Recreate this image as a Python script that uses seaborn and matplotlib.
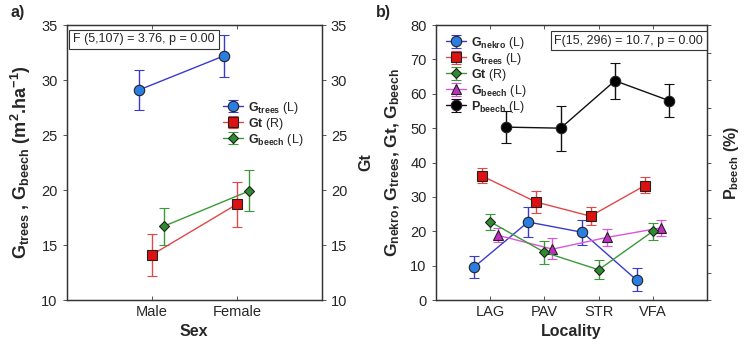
import numpy as np
import pandas as pd
import seaborn as sns
import matplotlib
matplotlib.use("Agg")
import matplotlib.pyplot as plt

# ---- panel a data (Sex) ----
sex = ["Male", "Female"]
a_trees = [29.1, 32.2]
a_trees_lo = [27.3, 30.3]
a_trees_hi = [30.9, 34.1]
a_gt = [14.1, 18.7]
a_gt_lo = [12.2, 16.6]
a_gt_hi = [16.0, 20.7]
a_beech = [16.7, 19.9]
a_beech_lo = [15.0, 18.1]
a_beech_hi = [18.4, 21.8]

# ---- panel b data (Locality) ----
loc = ["LAG", "PAV", "STR", "VFA"]
b_nekro = [9.5, 22.7, 19.7, 5.8]
b_nekro_lo = [6.3, 18.2, 16.1, 2.5]
b_nekro_hi = [12.7, 27.2, 23.3, 9.2]
b_trees = [36.1, 28.5, 24.4, 33.3]
b_trees_lo = [33.9, 25.3, 21.9, 31.0]
b_trees_hi = [38.4, 31.8, 27.0, 35.8]
b_gt = [22.8, 13.9, 8.8, 20.0]
b_gt_lo = [20.4, 10.5, 6.2, 17.5]
b_gt_hi = [25.1, 17.2, 11.5, 22.4]
b_beech = [18.8, 14.8, 18.2, 21.0]
b_beech_lo = [16.9, 11.9, 15.8, 18.7]
b_beech_hi = [21.0, 17.9, 20.7, 23.3]
b_pbeech = [50.3, 50.0, 63.8, 58.0]
b_pbeech_lo = [45.7, 43.5, 58.6, 53.2]
b_pbeech_hi = [55.0, 56.4, 68.9, 62.9]

sns.set_theme(style="ticks")
plt.rcParams["font.family"] = ["Liberation Sans", "DejaVu Sans"]
plt.rcParams["mathtext.fontset"] = "custom"
plt.rcParams["mathtext.rm"] = "Liberation Sans"
plt.rcParams["mathtext.bf"] = "Liberation Sans:bold"
plt.rcParams["mathtext.it"] = "Liberation Sans:italic"

BLUE = ("#3a3acc", "#2a7de1")
RED = ("#e04848", "#dd1111")
GREEN = ("#3a9a3a", "#2e8b2e")
MAG = ("#dd55dd", "#c030c0")
BLACK = ("#111111", "#000000")


def series(ax, cats, vals, lo, hi, off, col, marker, ms, label):
    df = pd.DataFrame({"cat": cats, "v": vals, "lo": lo, "hi": hi})
    x = np.arange(len(df)) + off
    err = [df.v - df.lo, df.hi - df.v]
    return ax.errorbar(x, df.v, yerr=err, color=col[0], lw=1, capsize=3.5,
                       capthick=1, elinewidth=1, marker=marker, ms=ms,
                       mfc=col[1], mec="#222222", mew=0.8, label=label)


fig = plt.figure(figsize=(7.5, 3.58), dpi=100)

# ================= panel a =================
ax = fig.add_axes([0.089, 0.162, 0.340, 0.768])
axr = ax.twinx()
h1 = series(ax, sex, a_trees, a_trees_lo, a_trees_hi, -0.15, BLUE, "o", 7.5,
            r"$\mathbf{G_{trees}}$ (L)")
h2 = series(axr, sex, a_gt, a_gt_lo, a_gt_hi, 0.0, RED, "s", 7,
            r"$\mathbf{Gt}$ (R)")
h3 = series(ax, sex, a_beech, a_beech_lo, a_beech_hi, 0.14, GREEN, "D", 5,
            r"$\mathbf{G_{beech}}$ (L)")
ax.set_xlim(-1, 2)
ax.set_xticks(range(len(sex)))
ax.set_xticklabels(sex)
for a_ in (ax, axr):
    a_.set_ylim(10, 35)
    a_.set_yticks(range(10, 36, 5))
ax.set_xlabel("Sex", fontweight="bold", fontsize=11.5)
ax.set_ylabel(r"$\mathbf{G_{trees}}$ , $\mathbf{G_{beech}}$ (m$^\mathbf{2}$.ha$^\mathbf{-1}$)",
              fontweight="bold", fontsize=13, labelpad=6)
axr.set_ylabel("Gt", fontweight="bold", fontsize=11.5, labelpad=8)
ax.legend([h1, h2, h3], [h.get_label() for h in (h1, h2, h3)],
          loc="upper left", bbox_to_anchor=(0.58, 0.76), frameon=False,
          fontsize=9, handlelength=1.6, labelspacing=0.0, borderpad=0.2,
          handletextpad=0.4, handleheight=0.8)
ax.text(0.025, 0.97, "F (5,107) = 3.76, p = 0.00", transform=ax.transAxes,
        ha="left", va="top", fontsize=9,
        bbox=dict(boxstyle="square,pad=0.3", fc="white", ec="#333333", lw=0.8))
ax.text(-0.22, 1.02, "a)", transform=ax.transAxes, fontsize=11.5,
        fontweight="bold", ha="left", va="bottom")

# ================= panel b =================
bx = fig.add_axes([0.581, 0.162, 0.362, 0.768])
bxr = bx.twinx()
g1 = series(bx, loc, b_nekro, b_nekro_lo, b_nekro_hi, -0.3, BLUE, "o", 7.5,
            r"$\mathbf{G_{nekro}}$ (L)")
g2 = series(bx, loc, b_trees, b_trees_lo, b_trees_hi, -0.15, RED, "s", 7,
            r"$\mathbf{G_{trees}}$ (L)")
g3 = series(bxr, loc, b_gt, b_gt_lo, b_gt_hi, 0.0, GREEN, "D", 5,
            r"$\mathbf{Gt}$ (R)")
g4 = series(bx, loc, b_beech, b_beech_lo, b_beech_hi, 0.15, MAG, "^", 7,
            r"$\mathbf{G_{beech}}$ (L)")
g5 = series(bx, loc, b_pbeech, b_pbeech_lo, b_pbeech_hi, 0.3, BLACK, "o", 7.5,
            r"$\mathbf{P_{beech}}$ (L)")
bx.set_xlim(-1, 4)
bx.set_xticks(range(len(loc)))
bx.set_xticklabels(loc)
bx.set_ylim(0, 80)
bx.set_yticks(range(0, 81, 10))
bxr.set_ylim(0, 80)
bxr.set_yticks(np.linspace(0, 80, 11))
bxr.set_yticklabels([])
bx.set_xlabel("Locality", fontweight="bold", fontsize=11.5)
bx.set_ylabel(r"$\mathbf{G_{nekro}}$, $\mathbf{G_{trees}}$, $\mathbf{Gt}$, $\mathbf{G_{beech}}$",
              fontweight="bold", fontsize=12.5, labelpad=6)
bxr.set_ylabel(r"$\mathbf{P_{beech}}$ (%)", fontweight="bold", fontsize=11.5,
               labelpad=4)
hs = [g1, g2, g3, g4, g5]
bx.legend(hs, [h.get_label() for h in hs], loc="upper left",
          bbox_to_anchor=(0.0, 1.0), frameon=False, fontsize=9,
          handlelength=1.6, labelspacing=0.0, borderpad=0.3, handletextpad=0.4,
          handleheight=0.8)
bx.text(0.985, 0.965, "F(15, 296) = 10.7, p = 0.00", transform=bx.transAxes,
        ha="right", va="top", fontsize=9,
        bbox=dict(boxstyle="square,pad=0.3", fc="white", ec="#333333", lw=0.8))
bx.text(-0.22, 1.02, "b)", transform=bx.transAxes, fontsize=11.5,
        fontweight="bold", ha="left", va="bottom")

for a_ in (ax, axr, bx, bxr):
    for s in a_.spines.values():
        s.set_visible(True)
        s.set_color("#333333")
        s.set_linewidth(0.9)
    a_.tick_params(axis="y", labelsize=10.5, length=3, width=0.7, color="#555555")
for a_ in (ax, bx):
    a_.tick_params(axis="x", labelsize=10.5, direction="in", top=True,
                   length=3, width=0.7, color="#555555")

fig.savefig("out.png", dpi=100)
